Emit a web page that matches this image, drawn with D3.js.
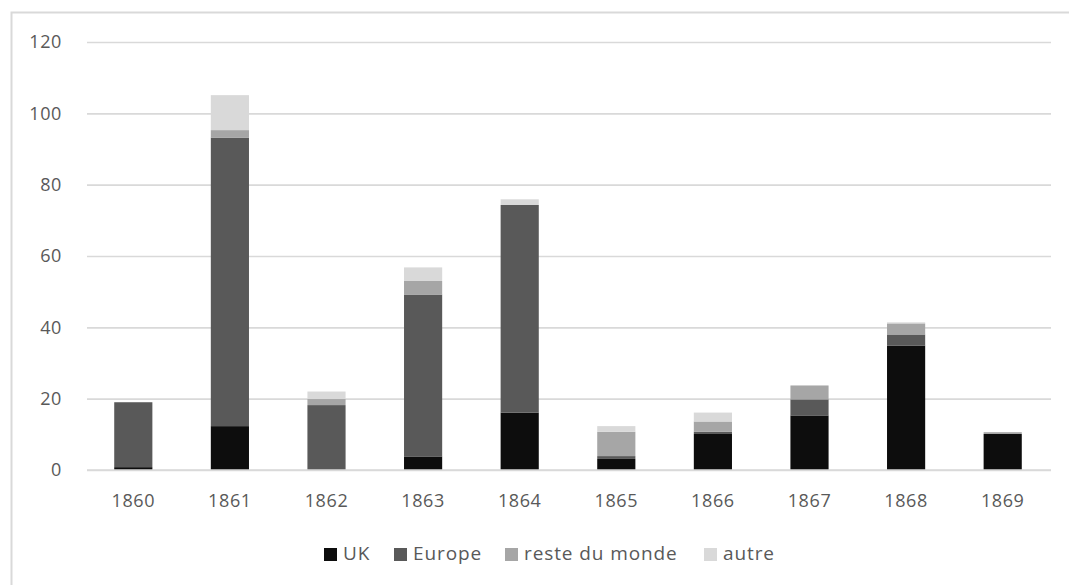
<!DOCTYPE html>
<html><head><meta charset="utf-8">
<script src="https://cdn.jsdelivr.net/npm/d3@7"></script>
<style>
html,body{margin:0;padding:0;background:#fff;}
svg{display:block;}
text{font-family:"Open Sans","Noto Sans",sans-serif;fill:#595959;}
</style></head>
<body>
<svg id="chart" width="1069" height="585"></svg>
<script>
const years = ["1860","1861","1862","1863","1864","1865","1866","1867","1868","1869"];
const seriesNames = ["UK","Europe","reste du monde","autre"];
const uk     = [0.8, 12.3, 0,    3.8, 16.1, 3.1, 10.1, 15.3, 34.9, 10.1];
const europe = [18.2, 80.9, 18.2, 45.4, 58.2, 0.8, 0.6, 4.5, 3.1, 0];
const reste  = [0,    2.1,  1.7,  3.8, 0,   6.8, 2.9, 3.9, 3.1, 0.5];
const autre  = [0,    9.8,  2.1,  3.8, 1.6, 1.6, 2.5, 0,   0.3, 0];
const yTicks = [0,20,40,60,80,100,120];
const colors = ["#0d0d0d","#595959","#a6a6a6","#d9d9d9"];

const rows = years.map((y,i)=>({year:y, "UK":uk[i], "Europe":europe[i], "reste du monde":reste[i], "autre":autre[i]}));
const stack = d3.stack().keys(seriesNames)(rows);

const svg = d3.select("#chart");
svg.append("rect").attr("x",11.5).attr("y",12.5).attr("width",1100).attr("height",700)
  .attr("fill","none").attr("stroke","#d9d9d9").attr("stroke-width",2);

const x = d3.scaleBand().domain(years).range([85,1051]).paddingInner(0.605).paddingOuter(0.3025);
const y = d3.scaleLinear().domain([0,120]).range([470,42]);

const yAxis = d3.axisLeft(y).tickValues(yTicks).tickSize(-(1051-87)).tickPadding(25);
const gy = svg.append("g").attr("transform","translate(87,0)").call(yAxis);
gy.select(".domain").remove();
gy.selectAll(".tick line").attr("stroke","#d9d9d9").attr("stroke-width",1.6);
gy.selectAll(".tick text").attr("font-size","18px").attr("letter-spacing","0.6px").attr("fill","#595959");

svg.append("g").selectAll("g").data(stack).join("g")
  .attr("fill",(d,i)=>colors[i])
  .selectAll("rect").data(d=>d).join("rect")
  .attr("x",d=>x(d.data.year))
  .attr("width",x.bandwidth())
  .attr("y",d=>y(d[1]))
  .attr("height",d=>Math.max(0,y(d[0])-y(d[1])));

svg.append("line").attr("x1",87).attr("x2",1051).attr("y1",y(0)).attr("y2",y(0))
  .attr("stroke","#d9d9d9").attr("stroke-width",1.6);

const xAxis = d3.axisBottom(x).tickSize(0).tickPadding(24);
const gx = svg.append("g").attr("transform",`translate(0,${y(0)})`).call(xAxis);
gx.select(".domain").remove();
gx.selectAll(".tick text").attr("font-size","18px").attr("letter-spacing","0.6px").attr("fill","#595959");

const legendX = [324, 394, 505, 704];
const lg = svg.append("g").selectAll("g").data(seriesNames).join("g")
  .attr("transform",(d,i)=>`translate(${legendX[i]},548)`);
lg.append("rect").attr("width",13).attr("height",13).attr("fill",(d,i)=>colors[i]);
lg.append("text").attr("x",19).attr("y",5.5).attr("dy","0.35em").attr("font-size","19px").attr("letter-spacing","0.9px").text(d=>d);
</script>
</body></html>
